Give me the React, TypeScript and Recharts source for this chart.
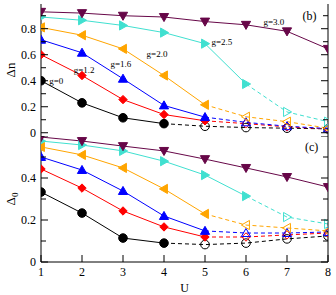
import React from "react";
import { LineChart, Line, XAxis, YAxis, ReferenceDot, Label } from "recharts";

// U values (x axis)
const U = [1, 2, 3, 4, 5, 6, 7, 8];

// panel (b): Δn for each g
const dnG0 = [0.4, 0.23, 0.115, 0.07, 0.05, 0.04, 0.035, 0.03];
const dnG12 = [0.6, 0.44, 0.255, 0.14, 0.092, 0.07, 0.045, 0.03];
const dnG16 = [0.715, 0.615, 0.415, 0.21, 0.12, 0.08, 0.05, 0.032];
const dnG20 = [0.81, 0.75, 0.645, 0.44, 0.215, 0.123, 0.085, 0.035];
const dnG25 = [0.89, 0.865, 0.825, 0.77, 0.685, 0.375, 0.16, 0.085];
const dnG30 = [0.93, 0.92, 0.9, 0.89, 0.855, 0.83, 0.78, 0.645];

// panel (c): Δ0 for each g
const d0G0 = [0.333, 0.233, 0.114, 0.09, 0.083, 0.09, 0.11, 0.124];
const d0G12 = [0.443, 0.352, 0.243, 0.167, 0.119, 0.119, 0.129, 0.138];
const d0G16 = [0.5, 0.438, 0.338, 0.219, 0.148, 0.138, 0.138, 0.143];
const d0G20 = [0.548, 0.51, 0.448, 0.348, 0.229, 0.176, 0.162, 0.148];
const d0G25 = [0.576, 0.557, 0.529, 0.48, 0.414, 0.314, 0.214, 0.181];
const d0G30 = [0.595, 0.576, 0.552, 0.529, 0.49, 0.448, 0.405, 0.357];

// index of last filled (solid) point per series; dashed + open symbols after it
const lastSolid = [3, 4, 4, 4, 5, 7];

const dnTicks = [0, 0.1, 0.2, 0.3, 0.4, 0.5, 0.6, 0.7, 0.8, 0.9];
const d0Ticks = [0, 0.1, 0.2, 0.3, 0.4, 0.5, 0.6];

const COLORS = ["#000000", "#ff0000", "#0000ff", "#ffa500", "#40e0d0", "#670748"];
const SHAPES = ["circle", "diamond", "up", "left", "right", "down"];
const FONT = "Liberation Serif, Times New Roman, serif";

function buildRows(series: number[][]) {
  return U.map((u, i) => {
    const row: Record<string, number | null> = { u };
    series.forEach((vals, s) => {
      row[`s${s}`] = i <= lastSolid[s] ? vals[i] : null;
      row[`d${s}`] = i >= lastSolid[s] ? vals[i] : null;
    });
    return row;
  });
}

const dnRows = buildRows([dnG0, dnG12, dnG16, dnG20, dnG25, dnG30]);
const d0Rows = buildRows([d0G0, d0G12, d0G16, d0G20, d0G25, d0G30]);

function marker(props: any, shape: string, color: string, filled: boolean, show: boolean) {
  const { cx, cy, index, value } = props;
  const key = `m-${index}`;
  if (!show || cx == null || cy == null || value == null) return <g key={key} />;
  const fill = filled ? color : "none";
  const s = 4.6;
  const common = { fill, stroke: color, strokeWidth: 1 };
  let pts = "";
  switch (shape) {
    case "circle":
      return <circle key={key} cx={cx} cy={cy} r={4.3} {...common} />;
    case "diamond": {
      const d = 4.2;
      pts = `${cx},${cy - d} ${cx + d},${cy} ${cx},${cy + d} ${cx - d},${cy}`;
      break;
    }
    case "up":
      pts = `${cx},${cy - s} ${cx + s},${cy + s * 0.75} ${cx - s},${cy + s * 0.75}`;
      break;
    case "down":
      pts = `${cx},${cy + s} ${cx + s},${cy - s * 0.75} ${cx - s},${cy - s * 0.75}`;
      break;
    case "left":
      pts = `${cx - s},${cy} ${cx + s * 0.75},${cy - s} ${cx + s * 0.75},${cy + s}`;
      break;
    default:
      pts = `${cx + s},${cy} ${cx - s * 0.75},${cy - s} ${cx - s * 0.75},${cy + s}`;
  }
  return <polygon key={key} points={pts} {...common} />;
}

const fmt = (v: number) => (v === 0 ? "0" : v.toFixed(1));

const makeYTick = (side: "left" | "right", maxLabel: number) => (props: any) => {
  const { x, y, payload } = props;
  const v = payload.value;
  const major = Math.round(v * 10) % 2 === 0;
  const len = major ? 7 : 5;
  const dir = side === "left" ? 1 : -1;
  return (
    <g>
      <line x1={x} y1={y} x2={x + dir * len} y2={y} stroke="#000" strokeWidth={1} />
      {side === "left" && major && v < maxLabel && (
        <text x={x - 5} y={y} dy={4} textAnchor="end" fontSize={12} fontFamily={FONT} fill="#000">
          {fmt(v)}
        </text>
      )}
    </g>
  );
};

const makeXTick = (dir: number, len: number, labels: boolean) => (props: any) => {
  const { x, y, payload } = props;
  return (
    <g>
      <line x1={x} y1={y} x2={x} y2={y + dir * len} stroke="#000" strokeWidth={1} />
      {labels && (
        <text x={x} y={y + 14} textAnchor="middle" fontSize={12} fontFamily={FONT} fill="#000">
          {payload.value}
        </text>
      )}
    </g>
  );
};

function renderSeries(prefix: string) {
  const out: React.ReactNode[] = [];
  COLORS.forEach((color, s) => {
    const shape = SHAPES[s];
    const split = lastSolid[s];
    if (split < U.length - 1) {
      out.push(
        <Line
          key={`${prefix}d${s}`}
          xAxisId="b"
          yAxisId="l"
          dataKey={`d${s}`}
          stroke={color}
          strokeWidth={1}
          strokeDasharray="4 3"
          isAnimationActive={false}
          activeDot={false}
          dot={(p: any) => marker(p, shape, color, false, p.index > split)}
        />
      );
    }
    out.push(
      <Line
        key={`${prefix}s${s}`}
        xAxisId="b"
        yAxisId="l"
        dataKey={`s${s}`}
        stroke={color}
        strokeWidth={1}
        isAnimationActive={false}
        activeDot={false}
        dot={(p: any) => marker(p, shape, color, true, true)}
      />
    );
  });
  return out;
}

const yTitle = (main: string, sub?: string) => (props: any) => {
  const vb = props.viewBox;
  const cx = vb.x + 12;
  const cy = vb.y + vb.height / 2;
  return (
    <text
      x={cx}
      y={cy}
      transform={`rotate(-90, ${cx}, ${cy})`}
      textAnchor="middle"
      dominantBaseline="middle"
      fontSize={13}
      fontFamily={FONT}
      fill="#000"
    >
      {main}
      {sub && (
        <tspan dy={4} fontSize={9}>
          {sub}
        </tspan>
      )}
    </text>
  );
};

const annot = { fontSize: 9, fontFamily: FONT, fill: "#000" };

export default function App() {
  return (
    <div style={{ position: "absolute", left: 0, top: 0, width: 336, height: 295, background: "#fff" }}>
      <div style={{ position: "absolute", left: 0, top: 136 }}>
        <LineChart width={336} height={159} data={d0Rows} margin={{ top: 0, right: 0, bottom: 0, left: 0 }}>
          <XAxis
            xAxisId="b"
            dataKey="u"
            type="number"
            domain={[1, 8]}
            ticks={U}
            allowDataOverflow
            height={33}
            interval={0}
            tickSize={0}
            tickMargin={0}
            tickLine={false}
            axisLine={{ stroke: "#000" }}
            tick={makeXTick(-1, 7, true)}
          >
            <Label value="U" position="insideBottom" offset={3} fontSize={12} fontFamily={FONT} fill="#000" />
          </XAxis>
          <XAxis
            xAxisId="t"
            orientation="top"
            dataKey="u"
            type="number"
            domain={[1, 8]}
            ticks={U}
            allowDataOverflow
            height={0}
            interval={0}
            tickSize={0}
            tickMargin={0}
            tickLine={false}
            axisLine={{ stroke: "#000" }}
            tick={makeXTick(1, 5, false)}
          />
          <YAxis
            yAxisId="l"
            type="number"
            domain={[0, 0.6]}
            ticks={d0Ticks}
            allowDataOverflow
            width={41}
            interval={0}
            tickSize={0}
            tickMargin={0}
            tickLine={false}
            axisLine={{ stroke: "#000" }}
            tick={makeYTick("left", 0.55)}
          >
            <Label content={yTitle("Δ", "0")} />
          </YAxis>
          <YAxis
            yAxisId="r"
            orientation="right"
            type="number"
            domain={[0, 0.6]}
            ticks={d0Ticks}
            allowDataOverflow
            width={8}
            interval={0}
            tickSize={0}
            tickMargin={0}
            tickLine={false}
            axisLine={{ stroke: "#000" }}
            tick={makeYTick("right", 0.55)}
          />
          {renderSeries("d0")}
          <ReferenceDot xAxisId="b" yAxisId="l" x={7.6} y={0.55} r={0} ifOverflow="visible" label={{ value: "(c)", position: "center", fontSize: 12, fontFamily: FONT, fill: "#000" }} />
        </LineChart>
      </div>
      <div style={{ position: "absolute", left: 0, top: 0 }}>
        <LineChart width={336} height={150} data={dnRows} margin={{ top: 4, right: 0, bottom: 14, left: 0 }}>
          <XAxis
            xAxisId="b"
            dataKey="u"
            type="number"
            domain={[1, 8]}
            ticks={U}
            allowDataOverflow
            height={0}
            interval={0}
            tickSize={0}
            tickMargin={0}
            tickLine={false}
            axisLine={{ stroke: "#000" }}
            tick={makeXTick(-1, 8, false)}
          />
          <XAxis
            xAxisId="t"
            orientation="top"
            dataKey="u"
            type="number"
            domain={[1, 8]}
            ticks={U}
            allowDataOverflow
            height={0}
            interval={0}
            tickSize={0}
            tickMargin={0}
            tickLine={false}
            axisLine={{ stroke: "#000" }}
            tick={makeXTick(1, 7, false)}
          />
          <YAxis
            yAxisId="l"
            type="number"
            domain={[-0.025, 0.99]}
            ticks={dnTicks}
            allowDataOverflow
            width={41}
            interval={0}
            tickSize={0}
            tickMargin={0}
            tickLine={false}
            axisLine={{ stroke: "#000" }}
            tick={makeYTick("left", 1)}
          >
            <Label content={yTitle("Δn")} />
          </YAxis>
          <YAxis
            yAxisId="r"
            orientation="right"
            type="number"
            domain={[-0.025, 0.99]}
            ticks={dnTicks}
            allowDataOverflow
            width={8}
            interval={0}
            tickSize={0}
            tickMargin={0}
            tickLine={false}
            axisLine={{ stroke: "#000" }}
            tick={makeYTick("right", 1)}
          />
          {renderSeries("dn")}
          <ReferenceDot xAxisId="b" yAxisId="l" x={1.37} y={0.4} r={0} ifOverflow="visible" label={{ value: "g=0", position: "center", ...annot }} />
          <ReferenceDot xAxisId="b" yAxisId="l" x={2.05} y={0.485} r={0} ifOverflow="visible" label={{ value: "g=1.2", position: "center", ...annot }} />
          <ReferenceDot xAxisId="b" yAxisId="l" x={2.95} y={0.53} r={0} ifOverflow="visible" label={{ value: "g=1.6", position: "center", ...annot }} />
          <ReferenceDot xAxisId="b" yAxisId="l" x={3.83} y={0.61} r={0} ifOverflow="visible" label={{ value: "g=2.0", position: "center", ...annot }} />
          <ReferenceDot xAxisId="b" yAxisId="l" x={5.41} y={0.7} r={0} ifOverflow="visible" label={{ value: "g=2.5", position: "center", ...annot }} />
          <ReferenceDot xAxisId="b" yAxisId="l" x={6.68} y={0.85} r={0} ifOverflow="visible" label={{ value: "g=3.0", position: "center", ...annot }} />
          <ReferenceDot xAxisId="b" yAxisId="l" x={7.55} y={0.9} r={0} ifOverflow="visible" label={{ value: "(b)", position: "center", fontSize: 12, fontFamily: FONT, fill: "#000" }} />
        </LineChart>
      </div>
    </div>
  );
}
